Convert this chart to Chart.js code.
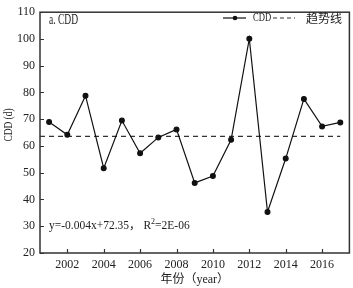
<!DOCTYPE html>
<html>
<head>
<meta charset="utf-8">
<script src="https://cdn.jsdelivr.net/npm/chart.js@4"></script>
<style>
  html, body { margin: 0; padding: 0; background: #fff; }
  #wrap { width: 353px; height: 288px; }
</style>
</head>
<body>
<div id="wrap"><canvas id="cddChart" width="353" height="288"></canvas></div>
<script>
// CDD per year
const years = [2001, 2002, 2003, 2004, 2005, 2006, 2007, 2008, 2009, 2010, 2011, 2012, 2013, 2014, 2015, 2016, 2017];
const cddValues = [69.0, 64.2, 78.8, 51.7, 69.5, 57.3, 63.2, 66.2, 46.2, 48.8, 62.3, 100.1, 35.3, 55.3, 77.6, 67.3, 68.8];
const trendYears = [2000.5, 2017];
const trendValues = [63.6, 63.6];
const xTickYears = [2002, 2004, 2006, 2008, 2010, 2012, 2014, 2016];
const yTickValues = [20, 30, 40, 50, 60, 70, 80, 90, 100, 110];

const SERIF = '"Liberation Serif", "DejaVu Serif", "Noto Sans CJK SC", serif';
const CJK = '"Noto Sans CJK SC", "Liberation Serif", serif';
const INK = '#222';

// squeezed text, the original uses a narrow (SimSun-like) latin face
function narrowText(ctx, txt, x, y, sx, rot) {
    ctx.save();
    ctx.translate(x, y);
    if (rot) ctx.rotate(rot);
    ctx.scale(sx, 1);
    ctx.fillText(txt, 0, 0);
    ctx.restore();
}

// frame, inward ticks, legend and text labels
const decorations = {
    id: 'decorations',
    afterDraw(chart) {
        const { ctx, chartArea: a, scales } = chart;
        ctx.save();
        ctx.strokeStyle = '#333';
        ctx.lineWidth = 1.5;
        ctx.strokeRect(a.left, a.top, a.right - a.left, a.bottom - a.top);

        ctx.lineWidth = 1.2;
        ctx.beginPath();
        xTickYears.forEach(v => {
            const px = Math.round(scales.x.getPixelForValue(v)) + 0.5;
            ctx.moveTo(px, a.bottom); ctx.lineTo(px, a.bottom - 4);
        });
        yTickValues.forEach(v => {
            const py = Math.round(scales.y.getPixelForValue(v)) + 0.5;
            ctx.moveTo(a.left, py); ctx.lineTo(a.left + 4, py);
        });
        ctx.stroke();

        ctx.fillStyle = INK;
        ctx.textBaseline = 'middle';
        ctx.font = '14px ' + SERIF;
        narrowText(ctx, 'a. CDD', a.left + 9, 20, 0.68);

        // y axis title
        ctx.textAlign = 'center';
        ctx.font = '13px ' + SERIF;
        narrowText(ctx, 'CDD (d)', 9, 125, 0.72, -Math.PI / 2);
        ctx.textAlign = 'left';

        // equation
        const ey = scales.y.getPixelForValue(30);
        ctx.font = '11.5px ' + SERIF;
        let x = a.left + 9;
        const s1 = 'y=-0.004x+72.35\uFF0C R';
        ctx.fillText(s1, x, ey);
        x += ctx.measureText(s1).width;
        ctx.font = '8px ' + SERIF;
        ctx.fillText('2', x, ey - 4);
        x += ctx.measureText('2').width;
        ctx.font = '11.5px ' + SERIF;
        ctx.fillText('=2E-06', x, ey);

        // legend
        const ly = 18;
        ctx.strokeStyle = '#111';
        ctx.lineWidth = 1.2;
        ctx.beginPath(); ctx.moveTo(223, ly); ctx.lineTo(246, ly); ctx.stroke();
        ctx.fillStyle = '#111';
        ctx.beginPath(); ctx.arc(235, ly, 2.3, 0, Math.PI * 2); ctx.fill();
        ctx.fillStyle = INK;
        ctx.font = '13px ' + SERIF;
        narrowText(ctx, 'CDD', 253, ly, 0.66);
        ctx.strokeStyle = '#333';
        ctx.setLineDash([4, 3]);
        ctx.beginPath(); ctx.moveTo(273, ly); ctx.lineTo(295, ly); ctx.stroke();
        ctx.setLineDash([]);
        ctx.font = '12px ' + CJK;
        ctx.fillText('趋势线', 306, ly);
        ctx.restore();
    }
};

new Chart(document.getElementById('cddChart'), {
    type: 'scatter',
    data: {
        datasets: [
            {
                label: 'CDD',
                data: years.map((y, i) => ({ x: y, y: cddValues[i] })),
                showLine: true,
                borderColor: '#111',
                backgroundColor: '#111',
                borderWidth: 1.2,
                pointRadius: 2.4,
                pointHoverRadius: 2.4,
                tension: 0
            },
            {
                label: '趋势线',
                data: trendYears.map((y, i) => ({ x: y, y: trendValues[i] })),
                showLine: true,
                borderColor: '#333',
                borderWidth: 1.2,
                borderDash: [5, 4],
                pointRadius: 0
            }
        ]
    },
    options: {
        responsive: false,
        animation: false,
        layout: { padding: { top: 6, right: 1, left: 0, bottom: 0 } },
        plugins: { legend: { display: false }, tooltip: { enabled: false } },
        scales: {
            x: {
                type: 'linear',
                min: 2000.5,
                max: 2017.5,
                afterBuildTicks: s => { s.ticks = xTickYears.map(v => ({ value: v })); },
                afterFit: s => { s.height = 35; },
                grid: { display: false, drawTicks: false, tickLength: 0 },
                border: { display: false },
                ticks: { color: INK, font: { family: SERIF, size: 12 }, padding: 5, callback: v => String(v) },
                title: { display: true, text: '年份\uFF08year\uFF09', color: INK, font: { family: SERIF, size: 12 }, padding: { top: 0, bottom: 1 } }
            },
            y: {
                min: 20,
                max: 110,
                afterBuildTicks: s => { s.ticks = yTickValues.map(v => ({ value: v })); },
                afterFit: s => { s.width = 40; },
                grid: { display: false, drawTicks: false, tickLength: 0 },
                border: { display: false },
                ticks: { color: INK, font: { family: SERIF, size: 12 }, padding: 5 }
            }
        }
    },
    plugins: [decorations]
});
</script>
</body>
</html>
